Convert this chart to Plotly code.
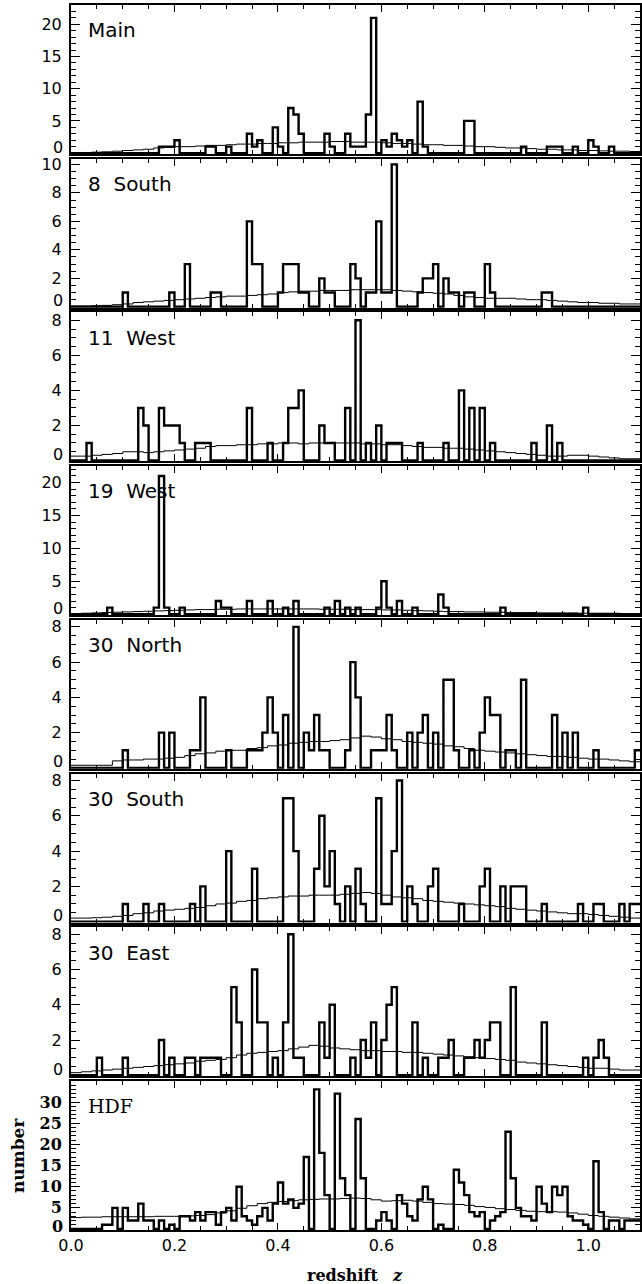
import plotly.graph_objects as go

# ---------------- data (bin width 0.01 in z, 0.00 .. 1.10) ----------------
names = ["Main", "8  South", "11  West", "19  West", "30  North", "30  South", "30  East", "HDF"]

main_counts = [
    0,0,0,0,0,0,0,0,0,0,
    0,0,0,0,0,0,0,1,1,1,
    2,0,0,0,0,0,1,1,0,0,
    1,0,0,0,3,1,2,0,0,4,
    1,0,7,6,3,0,0,0,0,3,
    1,0,0,3,1,1,1,6,21,0,
    2,1,3,2,1,2,0,8,1,0,
    0,0,0,0,0,0,5,5,0,0,
    0,0,0,0,0,0,0,1,0,0,
    0,0,1,1,1,0,0,1,0,0,
    2,1,0,0,1,0,0,0,0,0]
s8_counts = [
    0,0,0,0,0,0,0,0,0,0,
    1,0,0,0,0,0,0,0,0,1,
    0,0,3,0,0,0,0,1,1,0,
    0,0,0,0,6,3,3,0,0,0,
    1,3,3,3,1,1,0,0,2,1,
    1,0,0,0,3,2,0,1,1,6,
    1,1,10,0,0,0,0,1,2,2,
    3,0,2,1,1,0,1,1,0,0,
    3,1,0,0,0,0,0,0,0,0,
    0,1,1,0,0,0,0,0,0,0,
    0,0,0,0,0,0,0,0,0,0]
w11_counts = [
    0,0,0,1,0,0,0,0,0,0,
    0,0,0,3,2,0,0,3,2,2,
    2,1,0,0,1,1,1,0,0,0,
    0,0,0,0,3,0,0,0,1,0,
    0,1,3,3,4,0,0,0,2,1,
    1,0,0,3,0,8,0,1,0,2,
    0,1,1,1,0,0,0,1,0,0,
    0,0,1,0,0,4,0,3,0,3,
    0,1,0,0,0,0,0,0,0,1,
    0,0,2,0,1,0,0,0,0,0,
    0,0,0,0,0,0,0,0,0,0]
w19_counts = [
    0,0,0,0,0,0,0,1,0,0,
    0,0,0,0,0,0,1,21,1,0,
    0,1,0,0,0,0,0,0,2,1,
    1,0,0,0,2,0,0,0,2,0,
    0,1,0,2,0,0,0,0,0,1,
    0,2,0,1,0,1,0,0,0,1,
    5,1,0,2,0,0,1,0,0,0,
    0,3,1,0,0,0,0,0,0,0,
    0,0,0,1,0,0,0,0,0,0,
    0,0,0,0,0,0,0,0,0,1,
    0,0,0,0,0,0,0,0,0,0]
n30_counts = [
    0,0,0,0,0,0,0,0,0,0,
    1,0,0,0,0,0,0,2,0,2,
    0,0,0,1,1,4,0,0,0,0,
    1,0,0,0,1,1,1,2,4,2,
    0,3,0,8,0,2,1,3,1,1,
    0,0,0,1,6,4,0,0,1,1,
    1,3,1,0,0,2,0,2,3,0,
    2,0,5,5,1,0,0,1,0,2,
    4,3,3,0,1,1,0,5,0,0,
    0,0,0,3,0,2,0,2,0,0,
    0,1,0,0,0,0,0,0,0,1]
s30_counts = [
    0,0,0,0,0,0,0,0,0,0,
    1,0,0,0,1,0,0,1,0,0,
    0,0,0,1,0,2,0,0,0,0,
    4,0,0,0,0,3,0,0,0,0,
    0,7,7,4,0,0,0,3,6,2,
    4,1,0,2,0,3,1,0,0,7,
    1,1,4,8,0,2,1,0,0,2,
    3,0,0,0,0,1,0,0,0,2,
    3,0,0,2,0,2,2,2,0,0,
    0,1,0,0,0,0,0,0,1,0,
    0,1,1,0,0,0,1,0,1,1]
e30_counts = [
    0,0,0,0,0,1,0,0,0,0,
    1,0,0,0,0,0,0,2,0,1,
    0,0,1,1,0,1,1,1,1,0,
    0,5,3,0,0,6,3,3,0,1,
    0,3,8,1,1,0,0,0,3,1,
    4,0,0,0,1,0,2,1,3,0,
    2,4,5,0,0,0,3,0,1,0,
    0,1,1,2,0,0,1,1,2,1,
    2,3,3,0,0,5,0,0,0,0,
    0,3,0,0,0,0,0,0,0,1,
    0,1,2,1,0,0,0,0,0,0]
hdf_counts = [
    0,0,0,0,0,0,1,1,5,0,
    5,2,2,6,2,2,0,2,0,1,
    0,3,3,2,4,2,4,4,1,4,
    5,2,10,3,2,1,3,5,2,6,
    11,6,7,5,6,17,0,33,18,8,
    0,32,12,8,0,26,12,0,0,2,
    4,2,0,8,6,3,2,7,10,7,
    0,1,0,0,14,11,8,4,3,4,
    0,2,3,4,23,12,5,3,3,2,
    10,6,4,10,8,10,3,2,2,1,
    0,16,4,0,2,2,0,2,2,2]

# expected (model) distributions, bin width 0.02
main_model = [0.05,0.1,0.15,0.2,0.3, 0.4,0.5,0.6,0.8,0.9, 1.0,1.0,1.1,1.2,1.2,
              1.3,1.4,1.4,1.5,1.5, 1.6,1.6,1.7,1.7,1.7, 1.8,1.8,1.7,1.7,1.7,
              1.6,1.5,1.5,1.4,1.3, 1.3,1.2,1.2,1.1,1.0, 1.0,0.9,0.8,0.8,0.7,
              0.6,0.6,0.5,0.5,0.4, 0.4,0.35,0.3,0.3,0.25]
s8_model = [0.05,0.05,0.08,0.1,0.15, 0.2,0.3,0.35,0.4,0.45, 0.5,0.55,0.6,0.65,0.7,
            0.75,0.75,0.8,0.85,0.9, 1.0,1.05,1.1,1.1,1.15, 1.15,1.15,1.2,1.2,1.2,
            1.2,1.15,1.1,1.05,1.0, 0.95,0.9,0.8,0.7,0.65, 0.6,0.6,0.6,0.55,0.5,
            0.5,0.45,0.4,0.35,0.3, 0.3,0.25,0.25,0.2,0.2]
w11_model = [0.25,0.25,0.3,0.35,0.4, 0.5,0.5,0.45,0.5,0.55, 0.6,0.65,0.7,0.8,0.85,
             0.85,0.9,0.9,0.95,0.95, 1.0,1.0,0.95,1.0,1.0, 1.0,1.0,1.0,0.95,0.95,
             0.9,0.9,0.85,0.8,0.75, 0.75,0.7,0.7,0.65,0.6, 0.55,0.5,0.45,0.4,0.35,
             0.3,0.25,0.25,0.3,0.3, 0.25,0.2,0.15,0.1,0.1]
w19_model = [0.1,0.15,0.2,0.25,0.3, 0.35,0.4,0.45,0.5,0.55, 0.6,0.65,0.7,0.7,0.75,
             0.75,0.8,0.8,0.8,0.8, 0.8,0.8,0.8,0.8,0.75, 0.75,0.75,0.7,0.7,0.7,
             0.65,0.65,0.6,0.55,0.5, 0.45,0.4,0.4,0.35,0.35, 0.3,0.3,0.25,0.25,0.25,
             0.2,0.2,0.2,0.2,0.15, 0.15,0.15,0.15,0.1,0.1]
n30_model = [0.15,0.15,0.15,0.15,0.4, 0.45,0.45,0.5,0.5,0.55, 0.6,0.7,0.8,0.85,0.95,
             1.0,1.0,1.1,1.15,1.25, 1.3,1.4,1.45,1.5,1.5, 1.55,1.6,1.7,1.8,1.75,
             1.65,1.6,1.5,1.45,1.4, 1.35,1.25,1.2,1.1,1.0, 0.95,0.9,0.85,0.8,0.75,
             0.7,0.65,0.65,0.6,0.55, 0.5,0.5,0.45,0.4,0.35]
s30_model = [0.2,0.2,0.22,0.25,0.3, 0.35,0.45,0.5,0.6,0.65, 0.7,0.75,0.8,0.9,1.0,
             1.05,1.15,1.2,1.3,1.35, 1.4,1.45,1.45,1.5,1.5, 1.5,1.55,1.6,1.65,1.6,
             1.5,1.4,1.35,1.3,1.2, 1.15,1.1,1.05,1.0,0.95, 0.9,0.85,0.75,0.7,0.65,
             0.6,0.55,0.5,0.45,0.45, 0.4,0.35,0.3,0.25,0.2]
e30_model = [0.15,0.2,0.25,0.3,0.35, 0.4,0.45,0.5,0.55,0.6, 0.65,0.7,0.8,0.85,0.9,
             1.0,1.15,1.25,1.3,1.35, 1.4,1.5,1.6,1.7,1.65, 1.55,1.5,1.45,1.4,1.4,
             1.35,1.35,1.3,1.3,1.25, 1.2,1.15,1.1,1.05,1.0, 0.95,0.9,0.85,0.75,0.7,
             0.65,0.6,0.55,0.5,0.45, 0.4,0.4,0.35,0.3,0.3]
hdf_model = [2.7,2.8,2.8,2.9,2.9, 2.9,2.9,2.9,3.0,3.0, 3.0,3.1,3.2,3.4,3.8,
             4.3,4.9,5.5,6.0,6.3, 6.5,6.7,6.9,7.0,7.1, 7.1,7.2,7.3,7.2,6.9,
             6.6,6.7,6.8,6.6,6.3, 6.0,5.9,5.8,5.6,5.3, 5.1,4.8,4.6,4.4,4.2,
             4.1,4.1,4.0,3.8,3.5, 3.2,3.0,2.8,2.6,2.4]

x_tick_vals = [0.0, 0.2, 0.4, 0.6, 0.8, 1.0]
x_tick_text = ["0.0", "0.2", "0.4", "0.6", "0.8", "1.0"]
y_tick_vals = [
    [5, 10, 15, 20],
    [2, 4, 6, 8, 10],
    [2, 4, 6, 8],
    [5, 10, 15, 20],
    [2, 4, 6, 8],
    [2, 4, 6, 8],
    [2, 4, 6, 8],
    [5, 10, 15, 20, 25, 30],
]

counts_all = [main_counts, s8_counts, w11_counts, w19_counts, n30_counts, s30_counts, e30_counts, hdf_counts]
models_all = [main_model, s8_model, w11_model, w19_model, n30_model, s30_model, e30_model, hdf_model]

# ---------------- styling ----------------
ytop = [23.0, 10.4, 8.45, 22.5, 8.4, 8.4, 8.4, 35.0]
yminor = [1, 0.5, 0.5, 1, 0.5, 0.5, 0.5, 1]

W, H = 642, 1284
ML, MR, MT, MB = 71, 2, 5, 53
PH = H - MT - MB
period = 153.7
ph = 149.0

edges = [round(i * 0.01, 2) for i in range(111)]
medges = [round(i * 0.02, 2) for i in range(56)]

sans = "DejaVu Sans, sans-serif"
serif = "DejaVu Serif, serif"

fig = go.Figure()
layout = dict(
    width=W, height=H,
    margin=dict(l=ML, r=MR, t=MT, b=MB, autoexpand=False),
    paper_bgcolor="white", plot_bgcolor="white",
    showlegend=False,
)
annotations = []
for k in range(8):
    sfx = "" if k == 0 else str(k + 1)
    c = counts_all[k]
    m = models_all[k]
    fig.add_trace(go.Scatter(x=medges, y=m + [m[-1]], mode="lines",
                             line=dict(color="black", width=1, shape="hv"),
                             xaxis="x" + sfx, yaxis="y" + sfx, hoverinfo="skip"))
    fig.add_trace(go.Scatter(x=edges, y=c + [c[-1]], mode="lines",
                             line=dict(color="black", width=2.4, shape="hv"),
                             xaxis="x" + sfx, yaxis="y" + sfx, hoverinfo="skip"))
    top = 1 - (k * period) / PH
    bot = top - ph / PH
    last = (k == 7)
    layout["xaxis" + sfx] = dict(
        domain=[0, 1], range=[0, 1.1], anchor="y" + sfx,
        showline=True, linecolor="black", linewidth=2, mirror="allticks",
        ticks="inside", ticklen=7, tickwidth=1.3, tickcolor="black",
        tickvals=x_tick_vals, ticktext=x_tick_text,
        showticklabels=last, automargin=False,
        tickfont=dict(family=sans, size=16, color="black"),
        minor=dict(dtick=0.05, tick0=0, ticks="inside", ticklen=4, tickwidth=1, tickcolor="black"),
        showgrid=False, zeroline=False, fixedrange=True,
    )
    yfont = (dict(family=serif, size=16, color="black", weight="bold") if last
             else dict(family=sans, size=16, color="black"))
    layout["yaxis" + sfx] = dict(
        domain=[max(bot, 0), min(top, 1)], range=[-0.006 * ytop[k], ytop[k]], anchor="x" + sfx,
        showline=True, linecolor="black", linewidth=2, mirror="allticks",
        ticks="inside", ticklen=9, tickwidth=1.3, tickcolor="black",
        tickvals=y_tick_vals[k], ticklabelstandoff=4, automargin=False,
        tickfont=yfont,
        minor=dict(dtick=yminor[k], tick0=0, ticks="inside", ticklen=5, tickwidth=1, tickcolor="black"),
        showgrid=False, zeroline=False, fixedrange=True,
    )
    # the "0" label sits a little above the bottom edge, as in the original
    annotations.append(dict(
        text="0", xref="x" + sfx + " domain", yref="y" + sfx,
        x=0, y=0, xanchor="right", yanchor="middle", xshift=-6, yshift=3 if last else 6,
        showarrow=False, font=yfont,
    ))
    annotations.append(dict(
        text=names[k], xref="x" + sfx + " domain", yref="y" + sfx + " domain",
        x=0.027, y=0.83, xanchor="left", yanchor="middle", showarrow=False,
        font=dict(family=serif if last else sans, size=20 if not last else 19, color="black"),
    ))

annotations.append(dict(
    text="<b>number</b>", xref="paper", yref="paper",
    x=(18 - ML) / (W - ML - MR), y=(H - MB - 1156) / PH, textangle=-90,
    xanchor="center", yanchor="middle", showarrow=False,
    font=dict(family=serif, size=17, color="black"),
))
annotations.append(dict(
    text="<b>redshift</b>   <b><i>z</i></b>", xref="paper", yref="paper",
    x=(355 - ML) / (W - ML - MR), y=(H - MB - 1275) / PH,
    xanchor="center", yanchor="middle", showarrow=False,
    font=dict(family=serif, size=16, color="black"),
))
layout["annotations"] = annotations
fig.update_layout(**layout)
fig.write_html("out.html", config={"displayModeBar": False},
               post_script="document.body.style.margin='0';document.body.style.overflow='hidden';")
